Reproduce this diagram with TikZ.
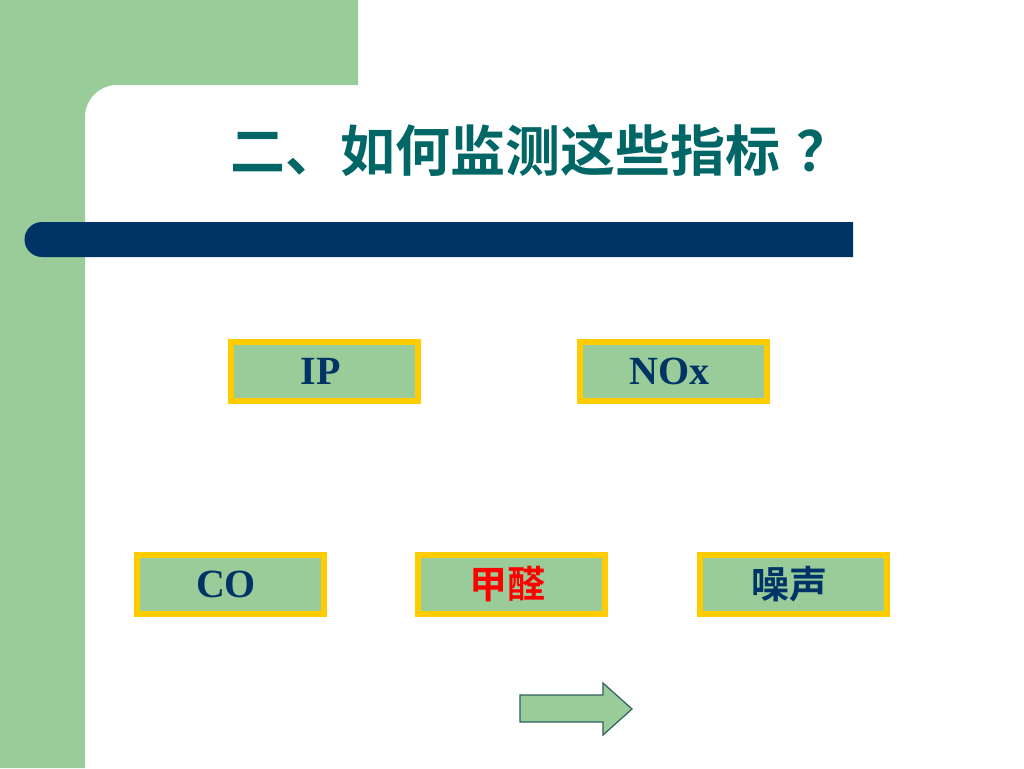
\documentclass[tikz,border=0pt]{standalone}
\usepackage{fontspec}
\setmainfont{Liberation Serif}
\newfontfamily\cjk{Noto Sans CJK SC}[BoldFont={Noto Sans CJK SC Bold}]
\definecolor{lgreen}{HTML}{99CC99}
\definecolor{navy}{HTML}{003366}
\definecolor{teal2}{HTML}{006666}
\definecolor{gold}{HTML}{FFCC00}
\definecolor{arrowline}{HTML}{2F5F5F}
\tikzset{
  itembox/.style={draw=gold, fill=lgreen, line width=6pt, rectangle,
    minimum width=187pt, minimum height=59pt, inner sep=0pt,
    font=\fontsize{40}{44}\selectfont\bfseries, text=navy,
    execute at end node={\kern8pt}},
  cjkbox/.style={itembox, font=\cjk\fontsize{38}{44}\selectfont\bfseries},
}
\begin{document}
\begin{tikzpicture}[x=1pt,y=-1pt]
\useasboundingbox (0,0) rectangle (1024,768);
\fill[white] (0,0) rectangle (1024,768);
% green background
\fill[lgreen] (0,0) -- (358,0) -- (358,85) -- (117,85)
  arc[start angle=270,end angle=180,radius=32] -- (85,768) -- (0,768) -- cycle;
% navy bar
\fill[navy] (853,222) -- (42,222) arc[start angle=270,end angle=90,radius=17.5] -- (853,257) -- cycle;
% title
\node[text=teal2, font=\cjk\fontsize{55}{62}\selectfont\bfseries] (title) at (541,150) {二、如何监测这些指标\kern16pt？};
% boxes
\node[itembox] (ip) at (324.5,371.5) {IP};
\node[itembox] (nox) at (673.5,371.5) {NOx};
\node[itembox] (co) at (230,584) {CO};
\node[cjkbox, text=red] (hcho) at (511.5,584) {甲醛};
\node[cjkbox] (noise) at (793.5,584) {噪声};
% arrow
\draw[fill=lgreen, draw=arrowline, line width=1.2pt, line join=miter]
  (520,695) -- (603,695) -- (603,683) -- (632,709) -- (603,735) -- (603,722) -- (520,722) -- cycle;
\end{tikzpicture}
\end{document}
